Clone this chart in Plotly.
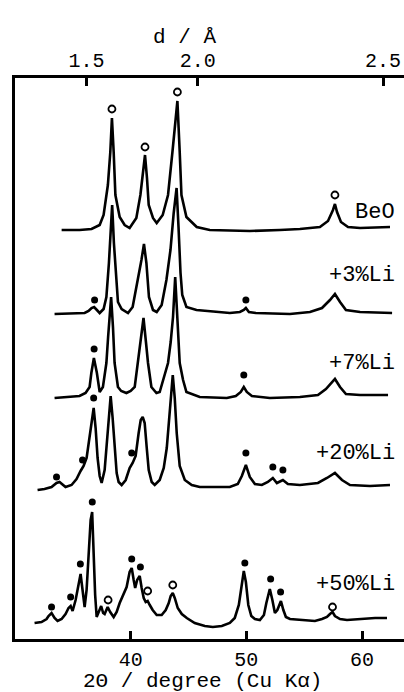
import plotly.graph_objects as go

# ---------------- data ----------------
# 2-theta (deg) and relative intensity for each pattern
tt_beo = [34.03, 35.58, 36.62, 37.32, 37.66, 38.03, 38.24, 38.38, 38.53, 38.68, 39.05, 39.48, 39.91,
          40.49, 40.84, 41.06, 41.24, 41.41, 41.56, 41.93, 42.25, 42.77, 43.23, 43.61, 43.90, 44.04,
          44.24, 44.39, 44.82, 45.71, 46.84, 50.30, 52.90, 54.63, 56.36, 57.06, 57.49, 57.66, 57.84,
          58.18, 58.79, 59.83, 62.42]
int_beo = [0, 0, 1, 5, 15, 45, 78, 112, 78, 35, 13, 5, 2, 12, 35, 58, 75, 52, 25, 12, 7, 15, 35, 78,
           112, 129, 78, 35, 13, 3, 0, -1, 0, 1, 3, 9, 20, 26, 18, 8, 3, 2, 3]

tt_li3 = [33.42, 35.15, 36.02, 36.36, 36.62, 36.84, 37.06, 37.32, 37.66, 37.90, 38.12, 38.40, 38.55,
          38.73, 38.90, 39.22, 39.77, 40.17, 40.63, 40.93, 41.15, 41.36, 41.58, 41.93, 42.25, 42.68,
          43.09, 43.44, 43.72, 43.97, 44.14, 44.31, 44.46, 44.82, 45.69, 48.57, 49.44, 49.78, 49.96,
          50.22, 50.82, 53.77, 55.50, 56.54, 57.23, 57.66, 58.10, 58.61, 59.83, 62.60]
int_li3 = [-1, 0, 0, 2, 5, 6, 3, 0, 4, 16, 50, 108, 70, 33, 11, 4, 0, 6, 33, 53, 69, 50, 16, 3, 1, 8,
           33, 63, 100, 125, 85, 40, 18, 6, 3, 0, 1, 3, 5, 1, 0, -1, 1, 5, 13, 19, 11, 3, 1, 0]

tt_li7 = [33.42, 34.72, 35.58, 36.10, 36.45, 36.60, 36.82, 37.08, 37.32, 37.60, 37.90, 38.05, 38.31,
          38.47, 38.61, 38.90, 39.18, 39.63, 40.00, 40.35, 40.63, 40.87, 41.11, 41.32, 41.50, 41.79,
          42.23, 42.51, 42.80, 43.23, 43.46, 43.66, 43.85, 44.03, 44.24, 44.53, 44.82, 45.97, 48.31,
          49.09, 49.52, 49.78, 50.04, 50.48, 52.03, 54.63, 56.19, 56.88, 57.32, 57.66, 58.10, 58.61,
          59.83, 62.25]
int_li7 = [-1, 0, 1, 4, 10, 24, 39, 24, 5, 10, 34, 60, 100, 70, 34, 10, 6, 4, 6, 10, 34, 55, 79, 55,
           34, 10, 4, 5, 17, 34, 55, 80, 120, 85, 34, 17, 5, 0, -1, 1, 5, 10, 5, 1, -1, 0, 2, 8, 14, 18,
           10, 3, 2, 2]

tt_li20 = [31.95, 32.55, 33.16, 33.59, 33.85, 34.11, 34.37, 34.89, 35.32, 35.67, 35.93, 36.19, 36.45,
           36.62, 36.80, 36.97, 37.14, 37.32, 37.49, 37.75, 37.92, 38.10, 38.27, 38.44, 38.61, 38.79,
           38.96, 39.22, 39.57, 39.91, 40.17, 40.43, 40.69, 40.87, 41.04, 41.21, 41.39, 41.56, 41.82,
           42.08, 42.51, 42.86, 43.12, 43.38, 43.64, 43.81, 43.98, 44.24, 44.68, 45.28, 45.97, 48.57,
           49.26, 49.61, 49.96, 50.30, 50.74, 51.34, 51.86, 52.29, 52.64, 53.16, 53.59, 54.63, 56.19,
           56.97, 57.66, 58.27, 58.96, 60.69, 62.42]
int_li20 = [-2, -1, 1, 5, 6, 3, 1, 3, 9, 17, 22, 30, 50, 68, 80, 60, 30, 12, 5, 18, 40, 70, 92, 70, 40,
            15, 6, 3, 8, 20, 25, 32, 55, 68, 71, 65, 40, 18, 6, 3, 8, 20, 40, 80, 113, 90, 55, 22, 8, 3,
            1, 1, 4, 12, 23, 11, 4, 3, 6, 10, 5, 8, 4, 3, 5, 10, 15, 8, 3, 2, 3]

tt_li50 = [31.69, 32.29, 32.73, 32.90, 33.16, 33.42, 33.68, 34.03, 34.37, 34.63, 34.81, 34.98, 35.24,
           35.50, 35.67, 35.84, 36.02, 36.19, 36.36, 36.54, 36.67, 36.80, 36.93, 37.06, 37.23, 37.45,
           37.62, 37.75, 38.01, 38.23, 38.53, 38.79, 39.05, 39.39, 39.65, 39.91, 40.09, 40.26, 40.39,
           40.56, 40.78, 40.95, 41.13, 41.30, 41.47, 41.65, 41.90, 42.25, 42.68, 43.03, 43.29, 43.46,
           43.64, 43.81, 44.07, 44.42, 44.85, 45.54, 46.41, 47.10, 47.88, 48.57, 49.00, 49.35, 49.57,
           49.78, 49.96, 50.17, 50.43, 50.74, 51.17, 51.52, 51.73, 52.03, 52.25, 52.47, 52.68, 52.99,
           53.20, 53.42, 53.77, 54.63, 55.93, 56.54, 56.97, 57.23, 57.45, 57.66, 58.10, 58.70, 59.83,
           61.13, 62.16]
int_li50 = [0, 1, 4, 7, 10, 5, 2, 4, 9, 15, 17, 12, 23, 40, 49, 33, 16, 33, 68, 103, 111, 63, 28, 6,
            11, 17, 10, 9, 16, 11, 6, 11, 20, 29, 36, 51, 55, 43, 35, 43, 47, 35, 25, 21, 22, 18, 13,
            8, 8, 13, 20, 27, 30, 25, 15, 9, 5, 0, -3, -4, -3, 0, 5, 18, 38, 52, 41, 18, 7, 4, 3, 8,
            20, 34, 23, 10, 13, 22, 13, 6, 4, 3, 2, 4, 6, 9, 11, 7, 4, 3, 4, 5, 5]

# phase markers: open circle = BeO, filled circle = Li phase  (2-theta, height)
open_beo_tt = [38.38, 41.24, 44.04, 57.66]
open_beo_h = [121, 83, 138, 35]
dot_li3_tt = [36.88, 49.96]
dot_li3_h = [13, 13]
dot_li7_tt = [36.84, 49.78]
dot_li7_h = [48, 22]
dot_li20_tt = [33.59, 35.84, 36.80, 40.09, 49.96, 52.29, 53.16]
dot_li20_h = [11, 28, 90, 35, 35, 21, 18]
dot_li50_tt = [33.16, 34.81, 35.65, 36.68, 40.09, 40.84, 49.87, 52.10, 52.96]
dot_li50_h = [16, 26, 59, 121, 64, 56, 60, 44, 31]
open_li50_tt = [38.05, 41.47, 43.64, 57.45]
open_li50_h = [23, 32, 38, 16]

labels = ["BeO", "+3%Li", "+7%Li", "+20%Li", "+50%Li"]
offsets = [409, 326, 242, 151, 16]          # vertical stacking offsets
label_h = [18, 38, 34, 35, 39]              # label height above each baseline

x_ticks = [40, 50, 60]
d_labels = ["1.5", "2.0", "2.5"]
d_tick_tt = [36.19, 45.80, 61.82]           # 2-theta positions of the d ticks

# ---------------- figure ----------------
FONT = "Liberation Mono"
fig = go.Figure()

patterns = [(tt_beo, int_beo), (tt_li3, int_li3), (tt_li7, int_li7), (tt_li20, int_li20), (tt_li50, int_li50)]
for (tt, it), off in zip(patterns, offsets):
    fig.add_trace(go.Scatter(x=tt, y=[off + v for v in it], mode="lines",
                             line=dict(color="black", width=2.6),
                             hoverinfo="skip", showlegend=False))

filled = [(dot_li3_tt, dot_li3_h, offsets[1]), (dot_li7_tt, dot_li7_h, offsets[2]),
          (dot_li20_tt, dot_li20_h, offsets[3]), (dot_li50_tt, dot_li50_h, offsets[4])]
for tt, h, off in filled:
    fig.add_trace(go.Scatter(x=tt, y=[off + v for v in h], mode="markers",
                             marker=dict(symbol="circle", size=7, color="black"),
                             hoverinfo="skip", showlegend=False))
opened = [(open_beo_tt, open_beo_h, offsets[0]), (open_li50_tt, open_li50_h, offsets[4])]
for tt, h, off in opened:
    fig.add_trace(go.Scatter(x=tt, y=[off + v for v in h], mode="markers",
                             marker=dict(symbol="circle-open", size=7, color="black",
                                         line=dict(width=1.8, color="black")),
                             hoverinfo="skip", showlegend=False))

# dummy trace so the top axis is drawn
fig.add_trace(go.Scatter(x=[None], y=[None], xaxis="x2", showlegend=False, hoverinfo="skip"))

for lab, off, h in zip(labels, offsets, label_h):
    fig.add_annotation(text=lab, xref="paper", yref="y", x=0.982, y=off + h,
                       xanchor="right", yanchor="middle", showarrow=False,
                       font=dict(family=FONT, size=22, color="black"))

fig.add_annotation(text="d / Å", xref="paper", yref="paper", x=0.436, y=1.072,
                   xanchor="center", yanchor="middle", showarrow=False,
                   font=dict(family=FONT, size=21, color="black"))
fig.add_annotation(text="2Θ / degree (Cu Kα)", xref="paper", yref="paper", x=0.482, y=-0.076,
                   xanchor="center", yanchor="middle", showarrow=False,
                   font=dict(family=FONT, size=21, color="black"))

XR = [30.0, 63.63]
axis_common = dict(range=XR, showgrid=False, zeroline=False, showline=True,
                   linecolor="black", linewidth=2.5, ticks="inside", ticklen=8,
                   tickwidth=2.5, tickcolor="black",
                   tickfont=dict(family=FONT, size=20, color="black"))
fig.update_layout(
    width=404, height=692,
    margin=dict(l=15, r=0, t=78, b=53),
    paper_bgcolor="white", plot_bgcolor="white",
    xaxis=dict(**axis_common, tickvals=x_ticks, ticktext=[str(v) for v in x_ticks],
               ticklabelstandoff=0),
    xaxis2=dict(**axis_common, overlaying="x", side="top", tickvals=d_tick_tt, ticktext=d_labels),
    yaxis=dict(range=[0, 561], showgrid=False, zeroline=False, showline=True,
               linecolor="black", linewidth=2.5, showticklabels=False, ticks=""),
)

fig.write_html("out.html")
